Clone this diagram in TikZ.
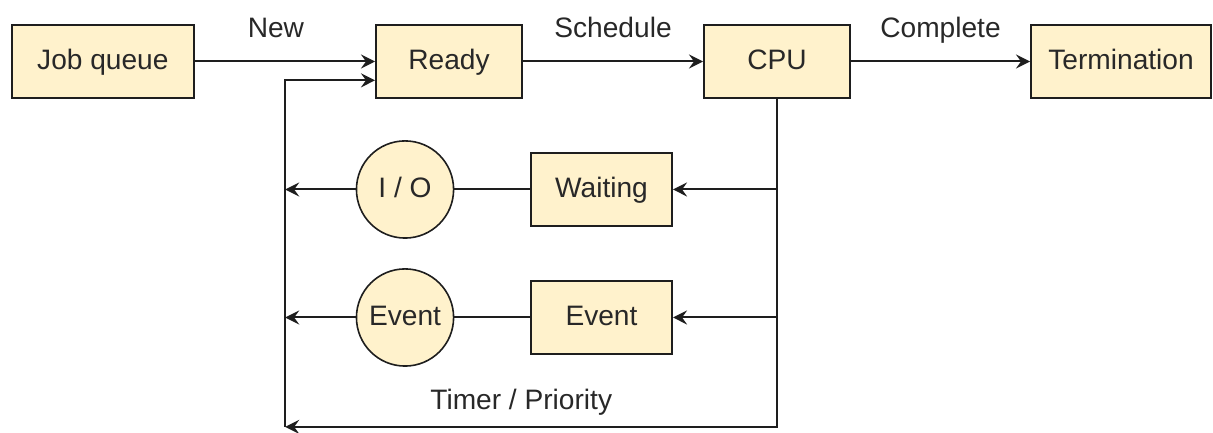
\documentclass[tikz,border=0pt]{standalone}
\usepackage{fontspec}
\setmainfont{Liberation Sans}
\usetikzlibrary{arrows.meta}
\definecolor{boxfill}{RGB}{255,242,204}
\definecolor{boxline}{RGB}{30,30,30}
\definecolor{txtcolor}{RGB}{40,40,40}

\tikzset{
  procbox/.style  = {rectangle, draw=boxline, fill=boxfill, line width=1pt,
                     minimum width=2.555cm, minimum height=1.278cm,
                     text height=1.9ex, text depth=0.3ex,
                     text=txtcolor, font=\fontsize{14}{16}\selectfont},
  evcircle/.style = {circle, draw=boxline, fill=boxfill, line width=0.8pt,
                     minimum size=1.7cm, inner sep=0pt,
                     text height=1.9ex, text depth=0.3ex,
                     text=txtcolor, font=\fontsize{14}{16}\selectfont},
  flow/.style     = {draw=boxline, line width=1pt,
                     -{Stealth[length=7pt, width=7pt, inset=2.5pt]}},
  plain/.style    = {draw=boxline, line width=1pt},
  lbl/.style      = {text=txtcolor, font=\fontsize{14}{16}\selectfont,
                     text height=1.6ex, text depth=0.3ex}
}

\begin{document}
\begin{tikzpicture}
\useasboundingbox (0,0) rectangle (21.2275,7.56);

% top row
\node[procbox, minimum width=3.185cm] (job)   at (1.80, 6.484)   {Job queue};
\node[procbox]                        (ready) at (7.858, 6.484)  {Ready};
\node[procbox]                        (cpu)   at (13.598, 6.484) {CPU};
\node[procbox, minimum width=3.15cm]  (term)  at (19.618, 6.484) {Termination};

% waiting row
\node[procbox, minimum width=2.468cm] (wait) at (10.526, 4.244) {Waiting};
\node[evcircle]                       (io)   at (7.088, 4.244)  {I / O};

% event row
\node[procbox, minimum width=2.468cm] (evbox) at (10.526, 2.004) {Event};
\node[evcircle]                       (evcir) at (7.088, 2.004)  {Event};

% corner of the return line
\coordinate (back) at (4.99, 0.09);

% main flow
\draw[flow] (job)   -- node[lbl, pos=0.45, yshift=15.5pt] {New} (ready);
\draw[flow] (ready) -- node[lbl, midway, yshift=15.5pt] {Schedule} (cpu);
\draw[flow] (cpu)   -- node[lbl, midway, yshift=15.5pt] {Complete} (term);

% from cpu back to ready
\draw[flow] (cpu.south) |- node[lbl, pos=0.76, yshift=12pt] {Timer / Priority} (back);
\draw[flow] (back) |- ([yshift=-0.33cm]ready.west);

\draw[flow] (cpu.south |- wait.east)  -- (wait.east);
\draw[flow] (cpu.south |- evbox.east) -- (evbox.east);

\draw[plain] (wait)  -- (io);
\draw[plain] (evbox) -- (evcir);
\draw[flow] (io.west)    -- (io.west -| back);
\draw[flow] (evcir.west) -- (evcir.west -| back);

\end{tikzpicture}
\end{document}
